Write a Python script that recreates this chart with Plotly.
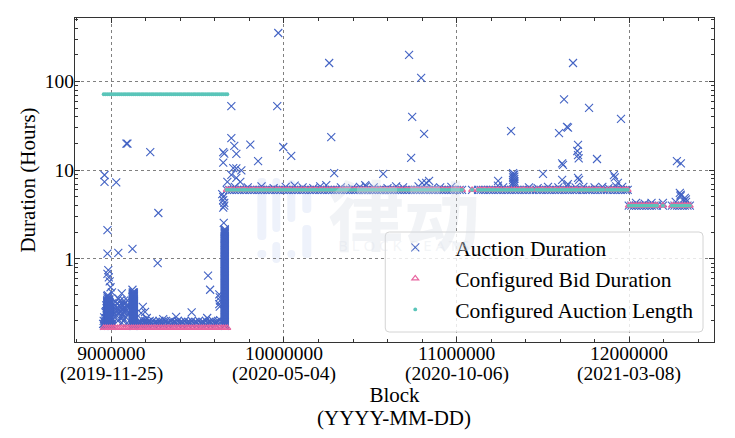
import plotly.graph_objects as go

tick_blocks = [9000000, 10000000, 11000000, 12000000]
tick_labels = ["9000000", "10000000", "11000000", "12000000"]
tick_dates = ["(2019-11-25)", "(2020-05-04)", "(2020-10-06)", "(2021-03-08)"]

early_blocks = [8955000, 8966000, 8978000, 8990000, 9001000, 9013000, 9024000, 9036000, 9047000, 9059000, 9071000, 9082000,
                9094000, 9105000, 9117000, 9128000, 9140000, 9152000, 9163000, 9175000, 9186000, 9198000, 9209000, 9221000,
                9233000, 9244000, 9256000, 9267000, 9279000, 9290000, 9302000, 9314000, 9325000, 9337000, 9348000, 9360000,
                9371000, 9383000, 9395000, 9406000, 9418000, 9429000, 9441000, 9452000, 9464000, 9476000, 9487000, 9499000,
                9510000, 9522000, 9533000, 9545000, 9557000, 9568000, 9580000, 9591000, 9603000, 9614000, 9626000, 9638000,
                9649000, 9661000, 9672000]
early_bid_hours = 0.167
early_length_hours = 72.0

six_hour_blocks = [9668000, 9683000, 9697000, 9712000, 9728000, 9741000, 9757000, 9771000, 9786000, 9802000, 9816000, 9831000,
                   9847000, 9862000, 9876000, 9891000, 9907000, 9921000, 9936000, 9952000, 9966000, 9981000, 9997000, 10012000,
                   10026000, 10041000, 10057000, 10071000, 10086000, 10102000, 10116000, 10131000, 10147000, 10162000, 10176000,
                   10191000, 10207000, 10221000, 10236000, 10252000, 10266000, 10281000, 10297000, 10312000, 10326000, 10341000,
                   10357000, 10371000, 10386000, 10402000, 10416000, 10431000, 10447000, 10462000, 10476000, 10491000, 10507000,
                   10521000, 10536000, 10552000, 10566000, 10581000, 10597000, 10612000, 10626000, 10641000, 10657000, 10671000,
                   10686000, 10702000, 10716000, 10731000, 10747000, 10762000, 10776000, 10791000, 10807000, 10821000, 10836000,
                   10852000, 10866000, 10881000, 10897000, 10912000, 10926000, 10941000, 10957000, 10971000, 10986000, 11002000,
                   11018000, 11032000, 11090000, 11125000, 11140000, 11154000, 11169000, 11185000, 11199000, 11214000, 11230000,
                   11244000, 11259000, 11275000, 11290000, 11304000, 11319000, 11335000, 11349000, 11364000, 11380000, 11395000,
                   11410000, 11425000, 11441000, 11462000, 11477000, 11491000, 11506000, 11522000, 11536000, 11551000, 11567000,
                   11582000, 11596000, 11611000, 11627000, 11642000, 11656000, 11671000, 11687000, 11698000, 11716000, 11731000,
                   11747000, 11762000, 11773000, 11789000, 11804000, 11820000, 11835000, 11851000, 11872000, 11889000, 11904000,
                   11919000, 11935000, 11950000, 11965000, 11979000, 11992000]
six_hours = 6.0

four_hour_blocks = [11998000, 12013000, 12028000, 12042000, 12057000, 12072000, 12087000, 12102000, 12117000, 12132000, 12147000,
                    12161000, 12196000, 12248000, 12263000, 12278000, 12293000, 12308000, 12323000, 12338000, 12352000]
four_hours = 4.0

outlier_blocks = [8960000, 8960000, 9028000, 8977000, 8977000, 9040000, 9122000, 9087000, 9093000, 9225000, 9272000, 9268000,
                  9560000, 9572000, 8982000, 8977000, 8985000, 8990000, 8995000, 9003000, 9122000, 9060000, 9695000, 9695000,
                  9712000, 9724000, 9805000, 9850000, 9648000, 9654000, 9648000, 9706000, 9724000, 9753000, 9695000, 9724000,
                  9747000, 9672000, 9648000, 9648000, 9654000, 9654000, 9648000, 9642000, 9651000, 9967000, 9961000, 9996000,
                  10042000, 10262000, 10274000, 10291000, 10245000, 10725000, 10795000, 10743000, 10812000, 10737000, 10575000,
                  10471000, 10475000, 10800000, 10841000, 10824000, 11316000, 11241000, 11501000, 11594000, 11640000, 11646000,
                  11623000, 11675000, 11768000, 11953000, 11704000, 11704000, 11708000, 11700000, 11814000, 11612000, 11617000,
                  11612000, 11704000, 11710000, 11912000, 11917000, 11935000, 12277000, 12300000, 12294000, 12299000, 12323000,
                  12317000, 12329000, 12298000, 11645000]
outlier_hours = [8.85, 7.4, 7.3, 2.12, 1.15, 1.17, 1.3, 20.0, 20.0, 16.0, 3.3, 0.9,
                 0.65, 0.45, 0.75, 0.68, 0.62, 0.56, 0.48, 0.42, 0.45, 0.41, 53.0, 23.0,
                 18.8, 15.3, 19.5, 12.7, 16.0, 15.4, 12.2, 10.6, 10.5, 10.0, 8.9, 8.2,
                 7.4, 7.4, 5.0, 4.6, 4.3, 4.0, 3.8, 5.4, 2.55, 353.0, 53.0, 18.3,
                 14.5, 162.0, 23.7, 9.3, 6.8, 200.0, 110.0, 40.0, 25.7, 13.8, 9.1,
                 6.8, 6.6, 7.2, 7.6, 7.2, 27.7, 7.6, 9.1, 26.3, 30.8, 30.2,
                 63.0, 162.0, 50.5, 37.9, 19.3, 14.8, 13.6, 16.5, 13.4, 12.0, 11.5,
                 7.8, 8.2, 7.8, 8.8, 8.3, 7.2, 12.7, 12.0, 5.55, 5.3, 4.9,
                 4.5, 4.7, 5.1, 7.0]

stack_blocks = [11328000, 11335000, 11328000, 11335000, 11328000, 11335000, 11328000, 11335000, 11328000, 11335000, 11328000, 11335000]
stack_hours = [9.3, 9.0, 8.8, 8.5, 8.3, 8.0, 7.8, 7.5, 7.3, 7.1, 6.9, 6.7]

spike_blocks = [9715000, 9790000, 9870000, 9940000, 10010000, 10062000, 10108000, 10170000, 10210000, 10330000, 10395000, 10440000,
                10520000, 10600000, 10650000, 10690000, 10780000, 10860000, 10905000, 10970000, 11240000, 11270000, 11420000, 11470000,
                11530000, 11590000, 11640000, 11690000, 11735000, 11800000, 11845000, 11880000, 11925000, 11960000, 12040000, 12090000,
                12130000, 12196000, 12270000, 12330000]
spike_hours = [6.5, 6.4, 6.6, 6.3, 6.5, 6.7, 6.4, 6.3, 6.6, 6.4, 6.3, 6.5,
               6.4, 6.3, 6.6, 6.4, 6.6, 6.3, 6.4, 6.5, 6.7, 6.4, 6.4, 6.3,
               6.5, 6.4, 6.6, 6.4, 6.5, 6.4, 6.5, 6.3, 6.6, 6.5, 4.3, 4.2,
               4.3, 4.3, 4.4, 4.4]

launch_blocks = [8957000, 8963000, 8969000, 8975000, 8981000, 8987000, 8993000, 8999000, 9004000, 8960000, 8966000, 8972000,
                 8978000, 8984000, 8990000, 8996000, 9002000, 8962000, 8968000, 8974000, 8980000, 8986000, 8992000, 8998000,
                 8971000, 8977000, 8983000, 8989000, 8995000, 8974000, 8980000, 8986000, 8992000, 8975000, 8983000, 8990000,
                 8969000, 8978000, 8987000, 8996000, 8972000, 8984000, 8993000, 8981000, 8975000, 8989000, 8978000, 8986000,
                 9010000, 9008000, 9012000, 9006000, 9011000, 9007000, 8952000, 8955000, 8958000, 8965000, 8970000, 8982000,
                 8992000, 9000000, 8976000, 8988000, 8979000]
launch_hours = [0.176, 0.178, 0.177, 0.179, 0.176, 0.178, 0.177, 0.18, 0.176, 0.186, 0.188, 0.187, 0.185, 0.188, 0.186, 0.187, 0.185,
                0.197, 0.199, 0.196, 0.198, 0.2, 0.197, 0.199, 0.211, 0.209, 0.212, 0.21, 0.211, 0.226, 0.224, 0.227, 0.225,
                0.243, 0.24, 0.245, 0.258, 0.262, 0.26, 0.257, 0.28, 0.284, 0.282, 0.305, 0.33, 0.325, 0.36, 0.345,
                0.19, 0.21, 0.235, 0.26, 0.29, 0.32, 0.185, 0.2, 0.22, 0.25, 0.3, 0.37, 0.31, 0.28, 0.38, 0.35, 0.39]
launch_column_blocks = [8976000, 8986000]
launch_column_hours = [0.19, 0.194, 0.198, 0.202, 0.206, 0.21, 0.214, 0.218, 0.222, 0.227, 0.232, 0.236, 0.241, 0.245, 0.25, 0.255,
                       0.26, 0.265, 0.271, 0.276, 0.282, 0.288, 0.294, 0.3, 0.305, 0.311, 0.318, 0.324, 0.33, 0.337, 0.345]

second_hours = [0.176, 0.18, 0.183, 0.187, 0.19, 0.194, 0.198, 0.202, 0.206, 0.21, 0.214, 0.218, 0.223, 0.227, 0.232, 0.236, 0.241,
                0.246, 0.251, 0.256, 0.261, 0.266, 0.272, 0.277, 0.283, 0.288, 0.294, 0.3, 0.306, 0.312, 0.318, 0.325, 0.331,
                0.337, 0.344, 0.351, 0.358, 0.365, 0.372, 0.38, 0.387, 0.395, 0.403, 0.41, 0.42]
second_blocks = [9124000, 9130000]

between_blocks = [9025000, 9032000, 9041000, 9050000, 9058000, 9066000, 9073000, 9081000, 9089000, 9096000, 9030000, 9045000, 9062000,
                  9078000, 9093000, 9038000, 9055000, 9070000, 9086000, 9050000, 9075000, 9060000, 9090000, 9040000, 9068000,
                  9035000, 9047000, 9064000, 9079000, 9091000, 9028000, 9052000, 9084000]
between_hours = [0.33, 0.28, 0.36, 0.25, 0.31, 0.22, 0.34, 0.27, 0.3, 0.24, 0.23, 0.3, 0.27, 0.32, 0.34, 0.2, 0.22, 0.3, 0.26, 0.34, 0.25,
                 0.19, 0.19, 0.25, 0.2, 0.31, 0.27, 0.24, 0.28, 0.29, 0.26, 0.29, 0.22]

quiet_blocks = [9158000, 9165000, 9172000, 9180000, 9188000, 9196000, 9205000, 9213000, 9222000, 9230000, 9240000, 9249000, 9258000,
                9268000, 9278000, 9287000, 9296000, 9306000, 9316000, 9326000, 9336000, 9345000, 9355000, 9365000, 9375000, 9385000,
                9395000, 9405000, 9415000, 9425000, 9436000, 9446000, 9456000, 9466000, 9477000, 9487000, 9497000, 9507000, 9518000,
                9528000, 9538000, 9548000, 9558000, 9568000, 9578000, 9588000, 9598000, 9608000, 9618000, 9630000,
                9182000, 9195000, 9172000, 9205000, 9300000, 9375000, 9465000, 9555000, 9628000, 9625000, 9630000, 9628000, 9625000,
                9161000, 9176000, 9192000, 9209000, 9226000, 9245000, 9263000, 9283000, 9301000, 9321000, 9341000, 9360000, 9380000,
                9400000, 9420000, 9441000, 9461000, 9482000, 9502000, 9523000, 9543000, 9563000, 9583000, 9603000, 9623000]
quiet_hours = [0.19, 0.2, 0.19, 0.205, 0.19, 0.2, 0.19, 0.195, 0.2, 0.19, 0.2, 0.19, 0.195,
               0.19, 0.2, 0.19, 0.195, 0.19, 0.2, 0.19, 0.195, 0.2, 0.19, 0.195, 0.19, 0.2,
               0.19, 0.195, 0.19, 0.2, 0.19, 0.195, 0.19, 0.2, 0.19, 0.195, 0.19, 0.2, 0.19,
               0.195, 0.19, 0.2, 0.19, 0.195, 0.19, 0.2, 0.19, 0.195, 0.2, 0.205,
               0.288, 0.253, 0.245, 0.216, 0.21, 0.222, 0.25, 0.216, 0.29, 0.31, 0.34, 0.37, 0.4,
               0.186, 0.183, 0.187, 0.184, 0.186, 0.183, 0.187, 0.185, 0.184, 0.186, 0.183, 0.187, 0.185,
               0.184, 0.186, 0.183, 0.187, 0.185, 0.184, 0.186, 0.183, 0.187, 0.185, 0.184, 0.186]

surge_hours = [0.176, 0.18, 0.183, 0.187, 0.19, 0.194, 0.198, 0.202, 0.206, 0.21, 0.214, 0.218, 0.223, 0.227, 0.232, 0.236, 0.241, 0.246,
               0.251, 0.256, 0.261, 0.266, 0.271, 0.276, 0.282, 0.287, 0.293, 0.299, 0.305, 0.311, 0.317, 0.323, 0.33, 0.336,
               0.343, 0.35, 0.357, 0.364, 0.371, 0.378, 0.386, 0.393, 0.401, 0.409, 0.417, 0.425, 0.434, 0.442, 0.451, 0.46, 0.469, 0.478,
               0.488, 0.498, 0.508, 0.518, 0.528, 0.538, 0.549, 0.56, 0.571, 0.582, 0.594, 0.606, 0.618, 0.63, 0.643, 0.655,
               0.668, 0.681, 0.695, 0.709, 0.723, 0.737, 0.752, 0.767, 0.782, 0.797, 0.813, 0.829, 0.846, 0.863, 0.88, 0.897, 0.915,
               0.933, 0.951, 0.97, 0.989, 1.01, 1.03, 1.05, 1.07, 1.09, 1.11, 1.13, 1.16, 1.18, 1.2, 1.22, 1.25, 1.27, 1.3,
               1.32, 1.35, 1.38, 1.41, 1.43, 1.46, 1.49, 1.52, 1.55, 1.58, 1.61, 1.65, 1.68, 1.71, 1.74, 1.78, 1.81, 1.85, 1.89,
               1.93, 1.96, 2.0, 2.04, 2.08, 2.12, 2.17]
surge_blocks = [9657000]

duration_x = (outlier_blocks + stack_blocks + spike_blocks + between_blocks + quiet_blocks + launch_blocks
              + [b for b in launch_column_blocks for _ in launch_column_hours]
              + [b for b in second_blocks for _ in second_hours]
              + [b for b in surge_blocks for _ in surge_hours]
              + six_hour_blocks + four_hour_blocks)
duration_y = (outlier_hours + stack_hours + spike_hours + between_hours + quiet_hours + launch_hours
              + launch_column_hours * len(launch_column_blocks)
              + second_hours * len(second_blocks)
              + surge_hours * len(surge_blocks)
              + [six_hours] * len(six_hour_blocks) + [four_hours] * len(four_hour_blocks))

config_x = early_blocks + six_hour_blocks + four_hour_blocks
bid_y = [early_bid_hours] * len(early_blocks) + [six_hours] * len(six_hour_blocks) + [four_hours] * len(four_hour_blocks)
length_y = [early_length_hours] * len(early_blocks) + [six_hours] * len(six_hour_blocks) + [four_hours] * len(four_hour_blocks)

FONT = "Liberation Serif"
L, R, T, B = 74.5, 714.0, 18.0, 342.0
W, H = 735, 438


def px(v):
    return (v - L) / (R - L)


def py(v):
    return (B - v) / (B - T)


def rounded(x0, y0, x1, y1, r):
    return (f"M {px(x0 + r)} {py(y0)} L {px(x1 - r)} {py(y0)} Q {px(x1)} {py(y0)} {px(x1)} {py(y0 + r)} "
            f"L {px(x1)} {py(y1 - r)} Q {px(x1)} {py(y1)} {px(x1 - r)} {py(y1)} L {px(x0 + r)} {py(y1)} "
            f"Q {px(x0)} {py(y1)} {px(x0)} {py(y1 - r)} L {px(x0)} {py(y0 + r)} Q {px(x0)} {py(y0)} {px(x0 + r)} {py(y0)} Z")


logo_bars = [(257, 178, 266, 240), (257, 250, 266, 258), (272, 178, 280, 232), (272, 242, 280, 263),
             (287, 180, 295, 222), (287, 250, 295, 258), (302, 193, 311, 213), (302, 225, 311, 258)]
shapes = [dict(type="path", xref="paper", yref="paper", path=rounded(*b, 4), fillcolor="#eef2fb",
               line=dict(width=0), layer="below") for b in logo_bars]
shapes.append(dict(type="path", xref="paper", yref="paper", path=rounded(385, 232, 703, 332, 4),
                   fillcolor="rgba(255,255,255,0.82)", line=dict(color="#d4d4d4", width=1), layer="above"))

date_notes = [dict(text=d, x=b, xref="x", y=py(373.5), yref="paper", showarrow=False, yanchor="middle",
                   font=dict(family=FONT, size=19.5, color="black")) for b, d in zip(tick_blocks, tick_dates)]

fig = go.Figure()
fig.add_trace(go.Scatter(x=duration_x, y=duration_y, mode="markers", name="Auction Duration",
                         legendgroup="a", marker=dict(symbol="x-thin", size=8, line=dict(color="#4363c4", width=1.1))))
fig.add_trace(go.Scatter(x=config_x, y=bid_y, mode="markers", name="Configured Bid Duration",
                         legendgroup="b", marker=dict(symbol="triangle-up-open", size=6, color="#e8649f", line=dict(color="#e8649f", width=1.2))))
fig.add_trace(go.Scatter(x=config_x, y=length_y, mode="markers", name="Configured Auction Length",
                         legendgroup="c", marker=dict(symbol="circle", size=3.8, color="#5ac5b9")))

axis_common = dict(showline=True, linecolor="#333333", linewidth=1.3, mirror="allticks", ticks="inside",
                   tickcolor="#333333", tickwidth=1, showgrid=True, gridcolor="#808080", griddash="dot", gridwidth=1,
                   zeroline=False, tickfont=dict(family=FONT, size=19.5, color="black"))
fig.update_xaxes(range=[8789000, 12492000], tickvals=tick_blocks, ticktext=tick_labels, ticklen=5, ticklabelstandoff=-7,
                 minor=dict(ticks="inside", ticklen=3, dtick=200000, tickcolor="#333333", showgrid=False),
                 title=dict(text="Block", font=dict(family=FONT, size=21, color="black"), standoff=24),
                 **axis_common)
fig.update_yaxes(type="log", range=[-0.936, 2.717], tickvals=[1, 10, 100], ticktext=["1", "10", "100"], ticklen=5, ticklabelstandoff=-4,
                 minor=dict(ticks="inside", ticklen=3, dtick="D1", tickcolor="#333333", showgrid=False),
                 title=dict(text="Duration (Hours)", font=dict(family=FONT, size=21, color="black"), standoff=3),
                 **axis_common)
fig.update_layout(
    width=W, height=H, margin=dict(l=L, r=W - R, t=T, b=H - B, autoexpand=False),
    paper_bgcolor="white", plot_bgcolor="white", shapes=shapes,
    font=dict(family=FONT, color="black"),
    legend=dict(x=px(375), y=py(227), xanchor="left", yanchor="top", bgcolor="rgba(0,0,0,0)", borderwidth=0,
                font=dict(family=FONT, size=21.5, color="black"), itemwidth=70, tracegroupgap=4.5, traceorder="normal"),
    annotations=date_notes + [
        dict(text="(YYYY-MM-DD)", xref="paper", x=px(394), y=py(418), yref="paper", showarrow=False, yanchor="middle",
             font=dict(family=FONT, size=21, color="black")),
        dict(text="<b>律动</b>", xref="paper", yref="paper", x=px(404), y=py(212), showarrow=False,
             font=dict(family="Noto Sans CJK SC", size=76, color="rgba(215,220,230,0.34)")),
        dict(text="B L O C K  B E A T S", xref="paper", yref="paper", x=px(403), y=py(257), showarrow=False,
             font=dict(family="Noto Sans", size=15, color="rgba(215,220,230,0.3)")),
    ],
)
fig.write_html("out.html", post_script="document.body.style.margin='0';", config=dict(displayModeBar=False))
